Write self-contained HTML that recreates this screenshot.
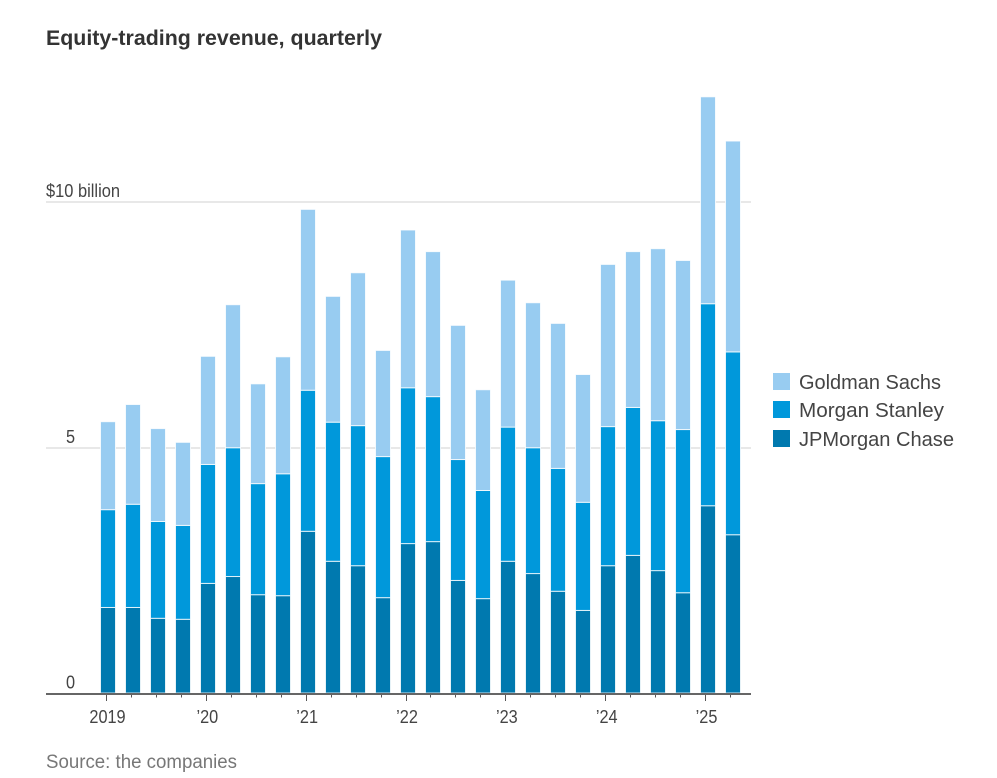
<!DOCTYPE html>
<html lang="en">
<head>
<meta charset="utf-8">
<title>Equity-trading revenue, quarterly</title>
<style>
html,body{margin:0;padding:0;background:#fff;width:997px;height:778px;overflow:hidden}
svg{display:block;font-family:"Liberation Sans",sans-serif}
</style>
</head>
<body>
<svg id="chart" width="997" height="778" viewBox="0 0 997 778" xmlns="http://www.w3.org/2000/svg">
  <rect width="997" height="778" fill="#fff"/>
  <text x="46" y="45" font-size="21" font-weight="700" fill="#333" textLength="336" lengthAdjust="spacingAndGlyphs">Equity-trading revenue, quarterly</text>
  <g id="grid"></g>
  <g id="bars"></g>
  <g id="axis"></g>
  <g id="ylabels"></g>
  <g>
    <g>
      <rect x="773" y="373" width="17" height="17" fill="#98ccf1"/>
      <text x="799" y="389" font-size="20.5" fill="#444" textLength="142" lengthAdjust="spacingAndGlyphs">Goldman Sachs</text>
    </g>
    <g>
      <rect x="773" y="401" width="17" height="17" fill="#0098db"/>
      <text x="799" y="417" font-size="20.5" fill="#444" textLength="145" lengthAdjust="spacingAndGlyphs">Morgan Stanley</text>
    </g>
    <g>
      <rect x="773" y="430" width="17" height="17" fill="#0079af"/>
      <text x="799" y="446" font-size="20.5" fill="#444" textLength="155" lengthAdjust="spacingAndGlyphs">JPMorgan Chase</text>
    </g>
  </g>
  <text x="46" y="768" font-size="19" fill="#777" textLength="191" lengthAdjust="spacingAndGlyphs">Source: the companies</text>
</svg>
<script>
const quarters = ["2019Q1","2019Q2","2019Q3","2019Q4","2020Q1","2020Q2","2020Q3","2020Q4","2021Q1","2021Q2","2021Q3","2021Q4","2022Q1","2022Q2","2022Q3","2022Q4","2023Q1","2023Q2","2023Q3","2023Q4","2024Q1","2024Q2","2024Q3","2024Q4","2025Q1","2025Q2"];
const jpmorgan = [1.74,1.74,1.52,1.50,2.23,2.37,2.00,1.98,3.29,2.68,2.59,1.94,3.04,3.08,2.29,1.92,2.68,2.43,2.07,1.68,2.59,2.80,2.49,2.04,3.81,3.22];
const morganStanley = [1.99,2.10,1.97,1.91,2.42,2.62,2.26,2.48,2.87,2.83,2.85,2.87,3.17,2.95,2.46,2.20,2.73,2.56,2.50,2.20,2.83,3.01,3.05,3.32,4.11,3.72];
const goldman = [1.79,2.03,1.89,1.69,2.20,2.91,2.03,2.38,3.68,2.56,3.11,2.16,3.21,2.95,2.73,2.05,2.99,2.95,2.95,2.60,3.30,3.17,3.50,3.44,4.21,4.29];
const yTicks = [0,5,10];
const yTickLabels = ["0","5","$10 billion"];
const xTickQuarters = ["2019Q1","2020Q1","2021Q1","2022Q1","2023Q1","2024Q1","2025Q1"];
const xTickLabels = ["2019","\u201920","\u201921","\u201922","\u201923","\u201924","\u201925"];

const NS = "http://www.w3.org/2000/svg";
function yScale(v){ return 693.5 - v * 49.15; }
function barX(q){ return 108 + quarters.indexOf(q) * 25; }
function tickX(q){ return 107 + quarters.indexOf(q) * 24.96; }
function make(parent, tag, attrs){
  const el = document.createElementNS(NS, tag);
  for (const k in attrs) el.setAttribute(k, attrs[k]);
  parent.appendChild(el);
  return el;
}
function condense(el, factor){
  const w = el.getComputedTextLength();
  el.setAttribute("textLength", w * factor);
  el.setAttribute("lengthAdjust", "spacingAndGlyphs");
}
const gridG = document.getElementById("grid");
const barsG = document.getElementById("bars");
const axisG = document.getElementById("axis");
const yLabG = document.getElementById("ylabels");

yTicks.forEach(function(t, i){
  if (t !== 0) {
    const gy = Math.round(yScale(t));
    const g = make(gridG, "line", {x1:46, x2:751, y1:gy, y2:gy, stroke:"#e8e8e8", "stroke-width":2});
    
    
  }
  const lab = make(yLabG, "text", {y:yScale(t) - 5, "font-size":18.5, fill:"#444"});
  
  
  if (t === 10) {
    lab.setAttribute("x", 46);
    lab.setAttribute("textLength", 74);
    lab.setAttribute("lengthAdjust", "spacingAndGlyphs");
    lab.textContent = yTickLabels[i];
  } else {
    lab.setAttribute("x", 75);
    lab.setAttribute("text-anchor", "end");
    lab.textContent = yTickLabels[i];
    condense(lab, 0.88);
  }
});

const seriesList = [
  {name:"jpmorgan", values:jpmorgan, color:"#0079af"},
  {name:"morgan-stanley", values:morganStanley, color:"#0098db"},
  {name:"goldman-sachs", values:goldman, color:"#98ccf1"}
];
const BAR_W = 15;
quarters.forEach(function(q, i){
  let base = 0;
  seriesList.forEach(function(s){
    const top = base + s.values[i];
    const y0 = yScale(base), y1 = yScale(top);
    const r = make(barsG, "rect", {x:barX(q) - BAR_W/2, y:y1 - 0.5, width:BAR_W, height:y0 - y1, fill:s.color, stroke:"#fff", "stroke-width":1, "stroke-opacity":0.8});
    
    
    base = top;
  });
});

quarters.forEach(function(q){
  const major = xTickQuarters.indexOf(q) >= 0;
  const x = Math.round(tickX(q)) - 0.5;
  const t = make(axisG, "line", {x1:x, x2:x, y1:694, y2:major ? 701 : 697.5, stroke:"#555", "stroke-width":1});
  
  
});
const axisLine = make(axisG, "line", {x1:46, x2:751, y1:694, y2:694, stroke:"#666", "stroke-width":2});


xTickQuarters.forEach(function(q, i){
  const lab = make(axisG, "text", {x:tickX(q) + 0.5, y:723, "text-anchor":"middle", "font-size":18.5, fill:"#444"});
  
  
  lab.textContent = xTickLabels[i];
  condense(lab, 0.88);
});
</script>
</body>
</html>
